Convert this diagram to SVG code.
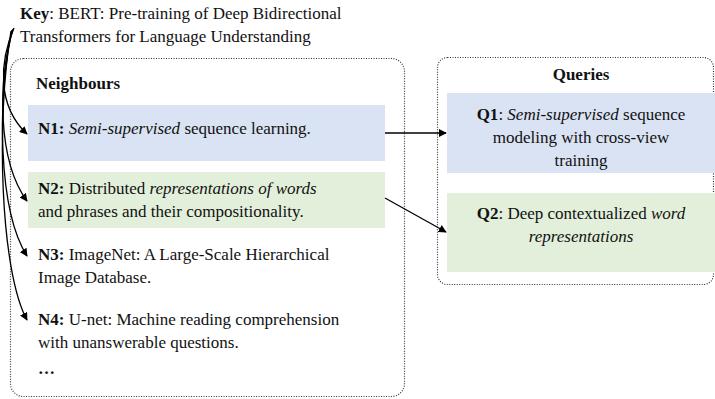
<svg xmlns="http://www.w3.org/2000/svg" width="715" height="399" viewBox="0 0 715 399">
<style>
text{font-family:'Liberation Serif','Tinos','Times New Roman','DejaVu Serif',serif;font-size:17px;fill:#111}
.b{font-weight:bold}
.i{font-style:italic}
.box{fill:none;stroke:#333;stroke-width:1.2;stroke-dasharray:1 1.5}
.blue{fill:#dae3f3}
.green{fill:#e2efda}
.c{fill:none;stroke:#000;stroke-width:1.3}
</style>
<defs>
<marker id="ah" viewBox="0 0 10 10" refX="9" refY="5" markerWidth="8" markerHeight="8" markerUnits="userSpaceOnUse" orient="auto">
<path d="M0,0 L10,5 L0,10 z" fill="#000"/>
</marker>
</defs>
<g id="key" font-family="Liberation Serif, Times New Roman, serif">
<text x="20" y="19"><tspan class="b">Key</tspan>: BERT: Pre-training of Deep Bidirectional</text>
<text x="20" y="42">Transformers for Language Understanding</text>
</g>
<g id="neighbours">
<rect class="box" x="10.5" y="58.5" width="394" height="338" rx="13"/>
<text class="b" x="36" y="89">Neighbours</text>
</g>
<g id="n1">
<rect class="blue" x="28" y="105" width="357" height="56"/>
<text x="38" y="134"><tspan class="b">N1:</tspan> <tspan class="i">Semi-supervised</tspan> sequence learning.</text>
</g>
<g id="n2">
<rect class="green" x="28" y="172" width="357" height="56"/>
<text x="38" y="194"><tspan class="b">N2:</tspan> Distributed <tspan class="i">representations of words</tspan></text>
<text x="38" y="217">and phrases and their compositionality.</text>
</g>
<g id="n3">
<text x="38" y="260"><tspan class="b">N3:</tspan> ImageNet: A Large-Scale Hierarchical</text>
<text x="38" y="283">Image Database.</text>
</g>
<g id="n4">
<text x="38" y="325"><tspan class="b">N4:</tspan> U-net: Machine reading comprehension</text>
<text x="38" y="348">with unanswerable questions.</text>
<text class="b" x="38" y="374">…</text>
</g>
<g id="queries">
<rect class="box" x="437.5" y="57.5" width="276" height="227" rx="10"/>
<text class="b" x="581" y="80" text-anchor="middle">Queries</text>
</g>
<g id="q1">
<rect class="blue" x="447" y="93" width="268" height="80"/>
<text x="581" y="120" text-anchor="middle"><tspan class="b">Q1</tspan>: <tspan class="i">Semi-supervised</tspan> sequence</text>
<text x="581" y="143" text-anchor="middle">modeling with cross-view</text>
<text x="581" y="166" text-anchor="middle">training</text>
</g>
<g id="q2">
<rect class="green" x="447" y="193" width="268" height="79"/>
<text x="581" y="219" text-anchor="middle"><tspan class="b">Q2</tspan>: Deep contextualized <tspan class="i">word</tspan></text>
<text x="581" y="242" text-anchor="middle" class="i">representations</text>
</g>
<g id="connectors">
<path class="c" d="M385,133 L446,133" marker-end="url(#ah)"/>
<path class="c" d="M385,198 L446,232" marker-end="url(#ah)"/>
<path class="c" d="M14,28 C0,60 -4,105 27,134" marker-end="url(#ah)"/>
<path class="c" d="M13,29 C-2,80 -3,160 27,201" marker-end="url(#ah)"/>
<path class="c" d="M12,30 C-3,100 -2,210 27,256" marker-end="url(#ah)"/>
<path class="c" d="M11,31 C-4,120 0,270 27,320" marker-end="url(#ah)"/>
</g>
</svg>
